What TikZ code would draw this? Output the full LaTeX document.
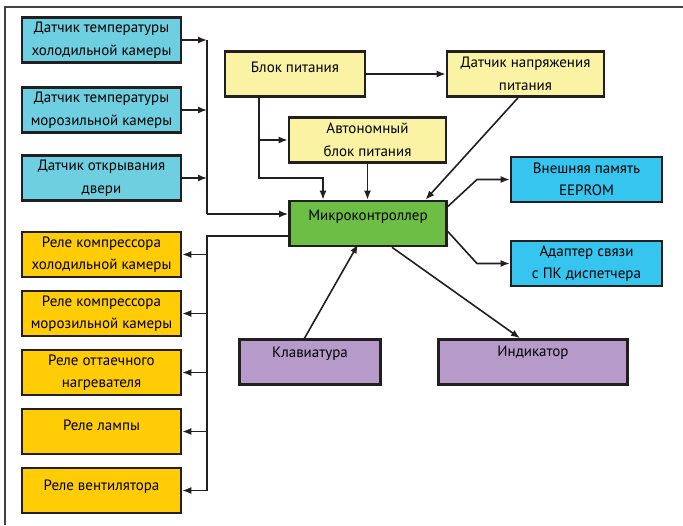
\documentclass[tikz,border=0pt]{standalone}
\usepackage{fontspec}
\setmainfont{PT Sans}
\usetikzlibrary{arrows.meta}
\definecolor{sensorcol}{HTML}{6ECFE0}
\definecolor{extcol}{HTML}{35C5EF}
\definecolor{supplycol}{HTML}{FAF3A3}
\definecolor{relaycol}{HTML}{FFCC05}
\definecolor{mcucol}{HTML}{6DBE45}
\definecolor{uicol}{HTML}{B69AC9}
\definecolor{edgecol}{HTML}{231F20}
\tikzset{
 box/.style={draw=edgecol, line width=2.6pt, minimum height=45pt, inner sep=0pt,
  align=center, font=\fontsize{15}{22.5}\selectfont},
 sensor/.style={box, fill=sensorcol, minimum width=159pt},
 relay/.style={box, fill=relaycol, minimum width=159pt},
 supply/.style={box, fill=supplycol},
 ext/.style={box, fill=extcol, minimum width=151pt},
 mcubox/.style={box, fill=mcucol, minimum width=157pt},
 ui/.style={box, fill=uicol},
 lift/.style={text height=11pt, text depth=#1},
 conn/.style={draw=edgecol, line width=1.6pt, -{Latex[length=9pt,width=7pt]}},
 wire/.style={draw=edgecol, line width=1.6pt},
}
\begin{document}
\begin{tikzpicture}[x=1pt, y=-1pt]
 \useasboundingbox (0,0) rectangle (683,525);
 \draw[draw=edgecol!85, line width=1.2pt] (5,525) -- (5,7) -- (683,7);

 % sensors
 \node[sensor] (tcold) at (101.5,40) {Датчик температуры\\холодильной камеры};
 \node[sensor] (tfrz) at (101.5,110) {Датчик температуры\\морозильной камеры};
 \node[sensor] (door) at (101.5,178) {Датчик открывания\\двери};

 % relays
 \node[relay] (rcold) at (101.5,254.5) {Реле компрессора\\холодильной камеры};
 \node[relay] (rfrz) at (101.5,313.5) {Реле компрессора\\морозильной камеры};
 \node[relay] (rheat) at (101.5,372.5) {Реле оттаечного\\нагревателя};
 \node[relay, lift=12.5pt] (rlamp) at (101.5,431.5) {Реле лампы};
 \node[relay, lift=11.5pt] (rfan) at (101.5,490.5) {Реле вентилятора};

 % power
 \node[supply, minimum width=140pt, lift=13.5pt] (psu) at (295,74) {Блок питания};
 \node[supply, minimum width=157pt] (vsens) at (525.5,74) {Датчик напряжения\\питания};
 \node[supply, minimum width=157pt] (bat) at (367.5,140) {Автономный\\блок питания};

 \node[mcubox, lift=16.5pt] (mcu) at (368,223.5) {Микроконтроллер};

 \node[ext] (eeprom) at (586.5,179.5) {Внешняя память\\EEPROM};
 \node[ext] (link) at (586.5,263.5) {Адаптер связи\\с ПК диспетчера};

 \node[ui, minimum width=141pt, lift=19.5pt] (kbd) at (310,362) {Клавиатура};
 \node[ui, minimum width=189pt, lift=21.5pt] (ind) at (533,362) {Индикатор};

 % input bus
 \coordinate (busin) at (207,40);
 \coordinate (businend) at (207,214);
 \foreach \s in {tcold,tfrz,door}
  \draw[conn] (\s.east) -- (\s.east -| busin);
 \draw[wire] (busin) -- (businend);
 \draw[conn] (businend) -- (mcu.west |- businend);

 % output bus
 \coordinate (busout) at (207,236);
 \draw[wire] (mcu.west |- busout) -- (busout) -- (busout |- rfan.east);
 \foreach \r in {rcold,rfrz,rheat,rlamp,rfan}
  \draw[conn] (\r.east -| busout) -- (\r.east);

 % power lines
 \coordinate (pdrop) at (259,178);
 \coordinate (pturn) at (323,178);
 \draw[conn] (psu.east) -- (vsens.west);
 \draw[conn] (psu.south -| pdrop) -- (pdrop) -- (pturn) -- (pturn |- mcu.north);
 \draw[conn] (pdrop |- bat.west) -- (bat.west);
 \draw[conn] (bat.south) -- (bat.south |- mcu.north);
 \draw[conn] ([xshift=-7.5pt]vsens.south) -- ([xshift=57.5pt]mcu.north);

 % memory and link
 \coordinate (ebend) at (477,179.5);
 \coordinate (lbend) at (477,263.5);
 \draw[conn] ([yshift=17pt]mcu.east) -- (ebend) -- (eeprom.west);
 \draw[conn] ([yshift=-8pt]mcu.east) -- (lbend) -- (link.west);

 % keyboard and indicator
 \draw[conn] ([xshift=-5.5pt]kbd.north) -- ([xshift=-10pt,yshift=3pt]mcu.south);
 \draw[conn] ([xshift=24pt]mcu.south) -- ([xshift=-13pt]ind.north);
\end{tikzpicture}
\end{document}
